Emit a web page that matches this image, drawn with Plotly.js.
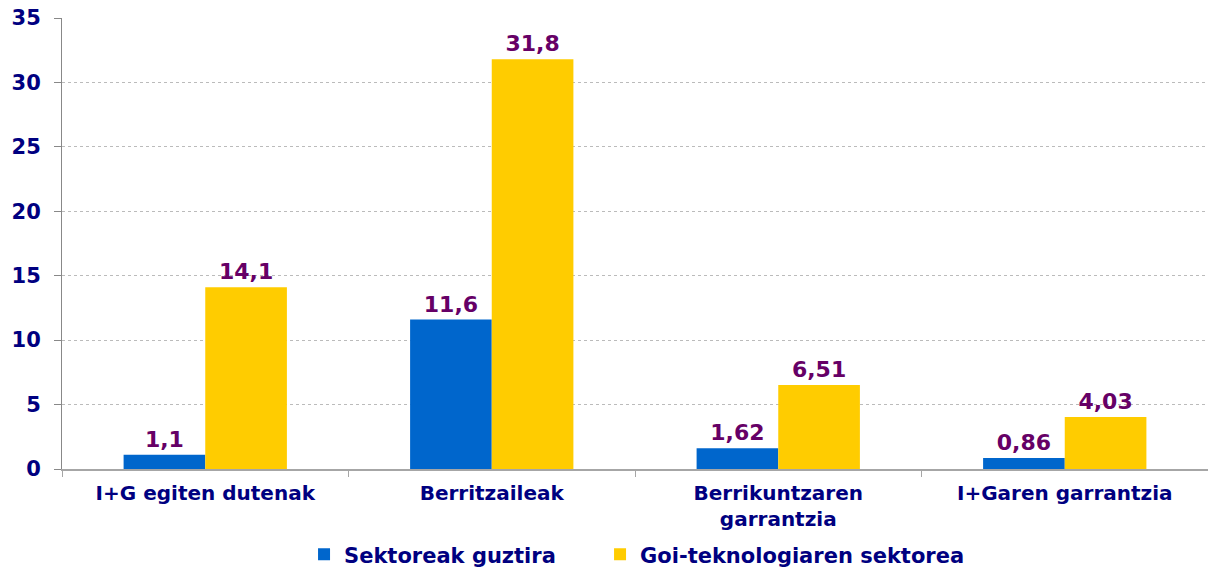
<!DOCTYPE html>
<html>
<head>
<meta charset="utf-8">
<script src="https://cdn.plot.ly/plotly-3.0.1.min.js"></script>
<style>
  html, body { margin: 0; padding: 0; background: #fff; }
  #chart { width: 1208px; height: 567px; }
</style>
</head>
<body>
<div id="chart"></div>
<script>
let categories = ['I+G egiten dutenak', 'Berritzaileak', 'Berrikuntzaren<br>garrantzia', 'I+Garen garrantzia']
let seriesNames = ['Sektoreak guztira', 'Goi-teknologiaren sektorea']
let allSectors = [1.1, 11.6, 1.62, 0.86]
let highTech = [14.1, 31.8, 6.51, 4.03]
let barColors = ['#0066CC', '#FFCC00']

let fmt = function (v) {
    return String(v).replace('.', ',')
}

let legendFont = { family: 'DejaVu Sans', size: 21, color: '#000080', weight: 'bold' }

let drawChart = function (divName) {
    let traceArr = []
    ;[allSectors, highTech].forEach((set, index) => {
        traceArr.push({
            x: categories,
            y: set,
            type: 'bar',
            name: seriesNames[index],
            legend: index == 0 ? 'legend' : 'legend2',
            text: set.map(fmt),
            textposition: 'outside',
            cliponaxis: false,
            textfont: { family: 'DejaVu Sans', size: 22, color: '#660066', weight: 'bold' },
            marker: { color: barColors[index], line: { width: 0 } },
            hoverinfo: 'none'
        })
    })
    let layout = {
        width: 1208,
        height: 567,
        margin: { l: 62, r: 0, t: 18, b: 98, autoexpand: false },
        paper_bgcolor: '#fff',
        plot_bgcolor: '#fff',
        barmode: 'group',
        bargap: 0.43,
        bargroupgap: 0,
        font: { family: 'DejaVu Sans', color: '#000080' },
        xaxis: {
            showline: true,
            linecolor: '#A6A6A6',
            linewidth: 2,
            ticks: 'outside',
            tickson: 'boundaries',
            ticklen: 6,
            tickcolor: '#A6A6A6',
            ticklabelstandoff: 5,
            tickfont: { family: 'DejaVu Sans', size: 20, color: '#000080', weight: 'bold' },
            showgrid: false,
            zeroline: false,
            automargin: false
        },
        yaxis: {
            range: [0, 35],
            dtick: 5,
            showline: true,
            linecolor: '#888888',
            linewidth: 1,
            ticks: 'outside',
            ticklen: 7,
            tickcolor: '#888888',
            ticklabelstandoff: 9,
            tickfont: { family: 'DejaVu Sans', size: 21, color: '#000080', weight: 'bold' },
            showgrid: true,
            gridcolor: '#BBBBBB',
            griddash: 'dot',
            gridwidth: 1,
            zeroline: false,
            automargin: false
        },
        legend: {
            orientation: 'h',
            x: 0.2112,
            xanchor: 'left',
            y: -0.19,
            yanchor: 'middle',
            font: legendFont,
            itemwidth: 30
        },
        legend2: {
            orientation: 'h',
            x: 0.4695,
            xanchor: 'left',
            y: -0.19,
            yanchor: 'middle',
            font: legendFont,
            itemwidth: 30
        },
        showlegend: true
    }
    Plotly.newPlot(divName, traceArr, layout, { displayModeBar: false, staticPlot: true })
}

drawChart('chart')
</script>
</body>
</html>
